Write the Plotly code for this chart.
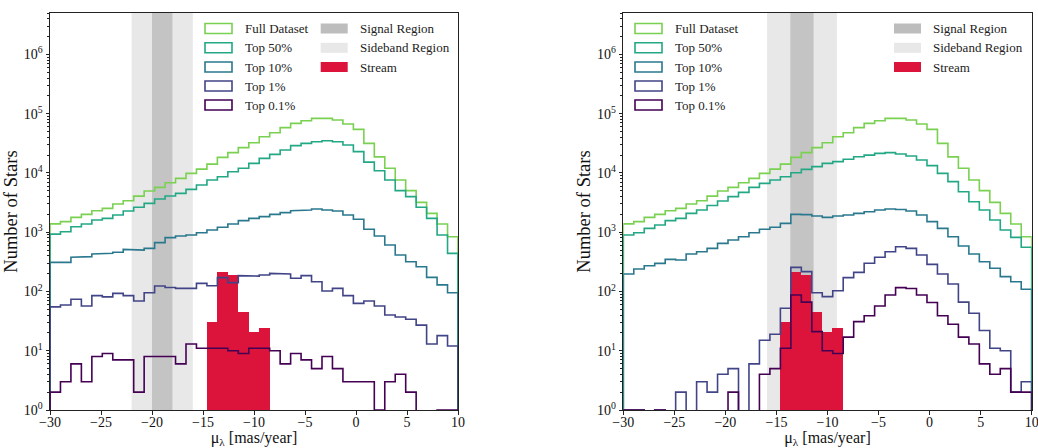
import numpy as np
import plotly.graph_objects as go

# ---------------- data ----------------
bin_edges = np.linspace(-30, 10, 40)          # 39 bins

series_names = ["Full Dataset", "Top 50%", "Top 10%", "Top 1%", "Top 0.1%"]
region_names = ["Signal Region", "Sideband Region", "Stream"]

full_counts = [1380, 1510, 1780, 2000, 2300, 2520, 2990, 3400, 4060, 4950, 5710, 6850, 8100,
               9840, 11600, 14100, 18300, 22000, 26700, 32400, 40800, 47800, 58100, 68700,
               76200, 83400, 83400, 78200, 67000, 54400, 31600, 18700, 12000, 7600, 5030,
               3190, 2080, 1375, 840]

stream_counts = [0] * 15 + [30, 215, 190, 45, 21, 24] + [0] * 18

# left panel (signal region -20 .. -18)
top50_left = [930, 1020, 1240, 1375, 1610, 1710, 1950, 2280, 2630, 3070, 3630, 4080, 4530,
              5290, 6260, 7600, 8650, 10500, 12000, 14500, 17600, 20600, 24400, 28900, 31600,
              33700, 35000, 33700, 29600, 22900, 15200, 10900, 7600, 5030, 3990, 2630, 1710,
              897, 440]
top10_left = [310, 310, 377, 387, 429, 440, 458, 513, 500, 534, 666, 809, 863, 897, 982, 1090,
              1210, 1375, 1570, 1710, 1830, 2000, 2140, 2310, 2370, 2460, 2370, 2280, 1950,
              1650, 1120, 863, 608, 412, 318, 262, 173, 129, 95]
top1_left = [55, 59, 74, 57, 85, 81, 93, 85, 69, 95, 124, 117, 113, 113, 137, 125, 171, 141,
             185, 182, 190, 202, 197, 167, 185, 146, 102, 113, 85, 63, 69, 57, 40, 37, 34, 27,
             13, 18, 12]
top01_left = [2, 3, 6, 3, 8, 9, 7, 7, 2, 8, 8, 8, 6, 13, 11, 11, 11, 10, 9, 11, 11, 10, 6, 9,
              7, 5, 8, 5, 3, 3, 3, 1, 3, 4, 2, 0, 0, 1, 1]

# right panel (signal region around -12.5)
top50_right = [897, 980, 1160, 1320, 1570, 1710, 2080, 2370, 2820, 3360, 3990, 4710, 5710,
               6670, 7600, 8650, 10100, 11500, 12800, 14500, 15500, 17000, 18800, 20000, 21400,
               22000, 20900, 19300, 16500, 13300, 9840, 7130, 4830, 3270, 2370, 1610, 1090,
               819, 556]
top10_right = [197, 240, 272, 298, 348, 339, 429, 468, 534, 647, 738, 840, 982, 1120, 1210,
               1410, 2000, 1980, 1880, 1780, 1880, 1950, 2080, 2220, 2370, 2460, 2420, 2280,
               1950, 1510, 1160, 840, 585, 429, 318, 246, 178, 146, 109]
top1_right = [1, 1, 0, 1, 0, 2, 0, 3, 2, 4, 5, 0, 6, 15, 19, 52, 255, 216, 95, 82, 103, 171,
              210, 299, 377, 468, 570, 534, 412, 287, 197, 134, 66, 43, 22, 11, 10, 2, 3]
top01_right = [1, 1, 0, 1, 0, 0, 0, 0, 0, 0, 2, 0, 0, 4, 5, 11, 87, 66, 21, 10, 9, 17, 31, 39,
               57, 87, 116, 112, 87, 65, 39, 28, 17, 13, 6, 4, 5, 2, 2]

signal_left, sideband_left = (-20.0, -18.0), (-22.0, -16.0)
signal_right, sideband_right = (-13.64, -11.36), (-15.92, -9.08)

x_ticks = [-30, -25, -20, -15, -10, -5, 0, 5, 10]
y_ticks = [1, 10, 100, 1000, 10000, 100000, 1000000]
y_ticktext = ["10<sup>%d</sup>" % i for i in range(7)]

# ---------------- style ----------------
colors = ["#7ad151", "#22a884", "#2a788e", "#414487", "#440154"]
stream_color = "#dc143c"
signal_color = "#c4c4c4"
sideband_color = "#e8e8e8"
FONT = "Liberation Serif"
W, H = 1038, 448
TOP, BOTTOM = 13, 410
FLOOR = 1e-2

fig = go.Figure()

panels = [
    dict(xa="x", ya="y", series=[full_counts, top50_left, top10_left, top1_left, top01_left],
         signal=signal_left, sideband=sideband_left, dom=(50, 458)),
    dict(xa="x2", ya="y2", series=[full_counts, top50_right, top10_right, top1_right, top01_right],
         signal=signal_right, sideband=sideband_right, dom=(623.3, 1031.7)),
]

edges = np.asarray(bin_edges)
centers = 0.5 * (edges[:-1] + edges[1:])
bw = edges[1] - edges[0]
shapes = []

for p in panels:
    xa, ya = p["xa"], p["ya"]
    # regions
    shapes.append(dict(type="rect", xref=xa, yref=ya + " domain", x0=p["sideband"][0],
                       x1=p["sideband"][1], y0=0, y1=1, fillcolor=sideband_color,
                       line=dict(width=0), layer="below"))
    shapes.append(dict(type="rect", xref=xa, yref=ya + " domain", x0=p["signal"][0],
                       x1=p["signal"][1], y0=0, y1=1, fillcolor=signal_color,
                       line=dict(width=0), layer="below"))
    # stream
    s = np.asarray(stream_counts, dtype=float)
    fig.add_trace(go.Bar(x=centers, y=np.where(s > 0, s, np.nan), width=bw,
                         marker=dict(color=stream_color, line=dict(width=0)),
                         xaxis=xa, yaxis=ya, showlegend=False, hoverinfo="skip"))
    # step histograms
    for vals, col, name in zip(p["series"], colors, series_names):
        v = np.asarray(vals, dtype=float)
        v = np.where(v > 0, v, FLOOR)
        xs = np.repeat(edges, 2)
        ys = np.concatenate([[FLOOR], np.repeat(v, 2), [FLOOR]])
        fig.add_trace(go.Scatter(x=xs, y=ys, mode="lines", name=name,
                                 line=dict(color=col, width=1.6),
                                 xaxis=xa, yaxis=ya, showlegend=False))

axis_common = dict(showline=True, linecolor="#222", linewidth=1, mirror=True,
                   showgrid=False, zeroline=False, ticks="outside", ticklen=3.5,
                   tickcolor="#222", tickfont=dict(family=FONT, size=14, color="#111"),
                   automargin=False, ticklabeloverflow="allow")

layout = dict(
    width=W, height=H, template="none",
    margin=dict(l=0, r=0, t=TOP, b=H - BOTTOM),
    paper_bgcolor="white", plot_bgcolor="white",
    barmode="overlay", bargap=0, showlegend=False,
    font=dict(family=FONT, color="#111"),
)

for i, p in enumerate(panels):
    sfx = "" if i == 0 else "2"
    layout["xaxis" + sfx] = dict(axis_common, domain=[p["dom"][0] / W, p["dom"][1] / W],
                                 range=[-30, 10], tickvals=x_ticks, anchor="y" + sfx,
                                 ticklabelstandoff=-4,
                                 title=dict(text="μ<sub>λ</sub> [mas/year]",
                                            font=dict(family=FONT, size=16), standoff=9))
    layout["yaxis" + sfx] = dict(axis_common, type="log", domain=[0, 1],
                                 range=[0, np.log10(5e6)], tickvals=y_ticks,
                                 ticktext=y_ticktext, anchor="x" + sfx,
                                 minor=dict(ticks="outside", ticklen=2, dtick="D1",
                                            tickcolor="#222", showgrid=False),
                                 title=dict(text="Number of Stars",
                                            font=dict(family=FONT, size=18.5), standoff=1))

# ---------------- legends (drawn as patches + text) ----------------
annotations = []


def px(xp):
    return xp / W


def py(yp):
    return (BOTTOM - yp) / (BOTTOM - TOP)


row_y = [28.5, 47.8, 67.0, 86.0, 105.0]
legend_pos = [
    dict(hist_x=205, region_x=320.7),
    dict(hist_x=635, region_x=894),
]
for lp in legend_pos:
    for j, (name, col) in enumerate(zip(series_names, colors)):
        yc = row_y[j]
        shapes.append(dict(type="rect", xref="paper", yref="paper",
                           x0=px(lp["hist_x"]), x1=px(lp["hist_x"] + 27),
                           y0=py(yc + 5), y1=py(yc - 5),
                           line=dict(color=col, width=1.6), fillcolor="rgba(0,0,0,0)"))
        annotations.append(dict(xref="paper", yref="paper", x=px(lp["hist_x"] + 38), y=py(yc),
                                text=name, showarrow=False, xanchor="left", yanchor="middle",
                                font=dict(family=FONT, size=13, color="#222")))
    for j, (name, col) in enumerate(zip(region_names, [signal_color, sideband_color, stream_color])):
        yc = row_y[j]
        shapes.append(dict(type="rect", xref="paper", yref="paper",
                           x0=px(lp["region_x"]), x1=px(lp["region_x"] + 27),
                           y0=py(yc + 5), y1=py(yc - 5),
                           line=dict(width=0), fillcolor=("#bdbdbd" if j == 0 else col)))
        annotations.append(dict(xref="paper", yref="paper", x=px(lp["region_x"] + 37), y=py(yc),
                                text=name, showarrow=False, xanchor="left", yanchor="middle",
                                font=dict(family=FONT, size=13, color="#222")))

layout["shapes"] = shapes
layout["annotations"] = annotations
fig.update_layout(**layout)
fig.write_html("out.html", config={"displayModeBar": False},
               post_script="document.body.style.margin='0';document.body.style.padding='0';"
                           "document.body.style.overflow='hidden';")
